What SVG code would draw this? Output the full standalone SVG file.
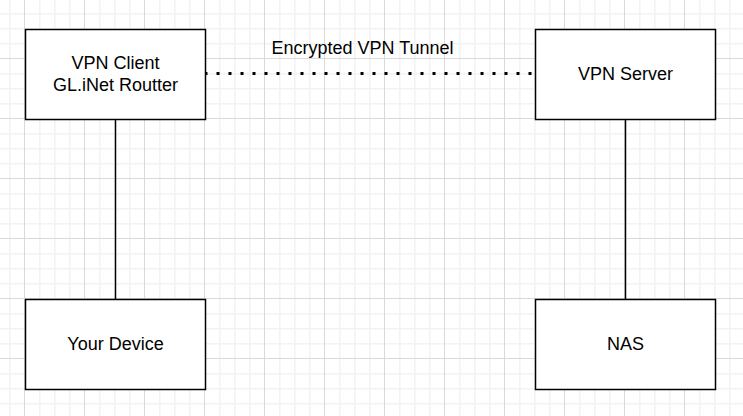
<svg xmlns="http://www.w3.org/2000/svg" width="743" height="416" viewBox="0 0 743 416">
<style>
.box{fill:#ffffff;stroke:#000000;stroke-width:1.5}
.lbl{font-family:"Liberation Sans",Arial,sans-serif;font-size:18px;fill:#000000;text-anchor:middle}
.link{stroke:#000000;stroke-width:1.5;fill:none}
.dot{stroke:#000000;stroke-width:3;fill:none;stroke-dasharray:3 9}
</style>
<defs>
<pattern id="grid" x="24" y="58" width="60" height="60" patternUnits="userSpaceOnUse">
<rect x="15" y="0" width="1.6" height="60" fill="#f3f3f3"/>
<rect x="30" y="0" width="1.6" height="60" fill="#f3f3f3"/>
<rect x="45" y="0" width="1.6" height="60" fill="#f3f3f3"/>
<rect x="0" y="15" width="60" height="1.6" fill="#f3f3f3"/>
<rect x="0" y="30" width="60" height="1.6" fill="#f3f3f3"/>
<rect x="0" y="45" width="60" height="1.6" fill="#f3f3f3"/>
<rect x="0" y="0" width="1" height="60" fill="#d9d9d9"/>
<rect x="0" y="0" width="60" height="1" fill="#d9d9d9"/>
</pattern>
</defs>
<rect x="0" y="0" width="743" height="416" fill="#ffffff"/>
<rect x="0" y="0" width="743" height="416" fill="url(#grid)"/>
<g id="connectors">
<line class="link" x1="115.5" y1="119.5" x2="115.5" y2="299.5"/>
<line class="link" x1="625.5" y1="119.5" x2="625.5" y2="299.5"/>
<line class="dot" x1="204.5" y1="73.5" x2="535" y2="73.5"/>
<text class="lbl" x="362.5" y="54">Encrypted VPN Tunnel</text>
</g>
<g id="vpn-client">
<rect class="box" x="25.5" y="29.5" width="180" height="90"/>
<text class="lbl" x="115.5" y="68.5">VPN Client</text>
<text class="lbl" x="115.5" y="91">GL.iNet Routter</text>
</g>
<g id="vpn-server">
<rect class="box" x="535.5" y="29.5" width="180" height="90"/>
<text class="lbl" x="625.5" y="80">VPN Server</text>
</g>
<g id="your-device">
<rect class="box" x="25.5" y="299.5" width="180" height="90"/>
<text class="lbl" x="115.5" y="350">Your Device</text>
</g>
<g id="nas">
<rect class="box" x="535.5" y="299.5" width="180" height="90"/>
<text class="lbl" x="625.5" y="350">NAS</text>
</g>
</svg>
